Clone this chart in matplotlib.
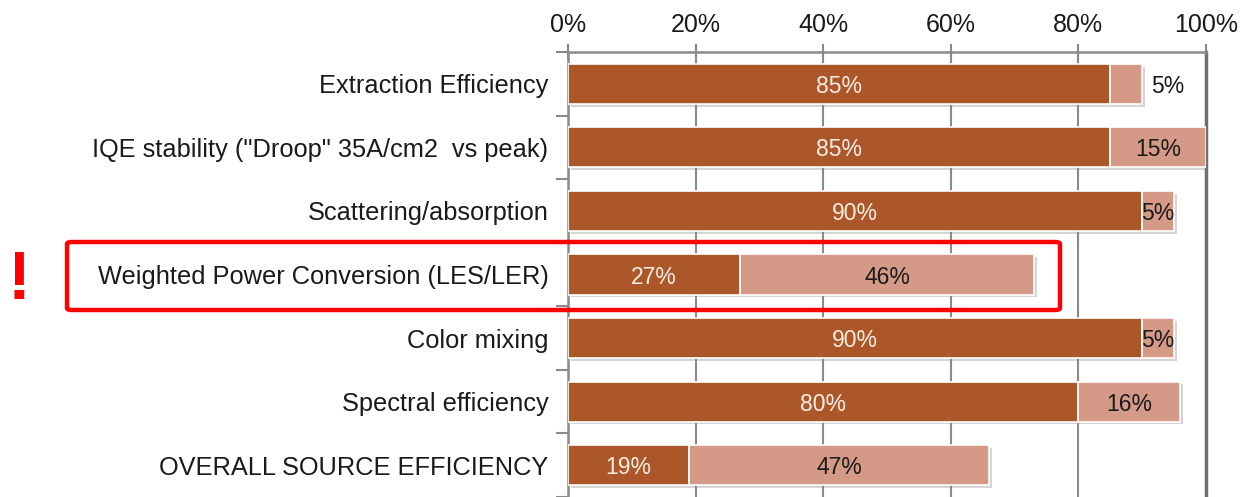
import matplotlib.pyplot as plt
import matplotlib.patheffects as pe
from matplotlib.patches import FancyBboxPatch
import numpy as np

plt.rcParams['font.family'] = ['Liberation Sans', 'DejaVu Sans']

categories = ['Extraction Efficiency',
              'IQE stability ("Droop" 35A/cm2  vs peak)',
              'Scattering/absorption',
              'Weighted Power Conversion (LES/LER)',
              'Color mixing',
              'Spectral efficiency',
              'OVERALL SOURCE EFFICIENCY']
achieved = [85, 85, 90, 27, 90, 80, 19]
potential = [5, 15, 5, 46, 5, 16, 47]
ticks = [0, 20, 40, 60, 80, 100]

dark = '#AB5729'
light = '#D49A87'
grid_c = '#8a8a8a'

fig = plt.figure(figsize=(12.43, 4.97), dpi=100)
ax = fig.add_axes([568 / 1243, 0.0, (1206 - 568) / 1243, 1 - 52 / 497])

y = np.arange(len(categories))
shadow = [pe.SimplePatchShadow(offset=(2, -2), shadow_rgbFace='#888888', alpha=0.35), pe.Normal()]
b1 = ax.barh(y, achieved, height=0.63, color=dark, edgecolor='white', linewidth=1.2, zorder=3)
b2 = ax.barh(y, potential, left=achieved, height=0.63, color=light, edgecolor='white',
             linewidth=1.2, zorder=3)
for p in list(b1) + list(b2):
    p.set_path_effects(shadow)

for i in range(len(categories)):
    ax.text(achieved[i] / 2, y[i], '%d%%' % achieved[i], ha='center', va='center_baseline',
            color='#FBEDE3', fontsize=16.5, zorder=5)
    if i == 0:
        # small segment: label put beside the bar
        xl = achieved[i] + potential[i] + 4
    else:
        xl = achieved[i] + potential[i] / 2
    ax.text(xl, y[i], '%d%%' % potential[i], ha='center', va='center_baseline',
            color='#1a1a1a', fontsize=16.5, zorder=5)

ax.set_xlim(0, 100)
ax.set_ylim(len(categories) - 0.5, -0.5)
ax.xaxis.tick_top()
ax.set_xticks(ticks)
ax.set_xticklabels(['%d%%' % t for t in ticks], fontsize=18, color='#1a1a1a')
ax.tick_params(axis='x', direction='inout', length=12, width=1.5, color=grid_c, pad=5)
ax.grid(axis='x', color=grid_c, linewidth=1.5)
ax.set_axisbelow(True)

ax.set_yticks(y)
ax.set_yticklabels(categories, fontsize=18.3, color='#1a1a1a')
ax.set_yticks(np.arange(len(categories) + 1) - 0.5, minor=True)
ax.tick_params(axis='y', which='major', length=0, pad=14)
ax.tick_params(axis='y', which='minor', direction='out', length=9, width=1.5, color=grid_c)

ax.spines['bottom'].set_visible(False)
ax.spines['top'].set_color(grid_c)
ax.spines['top'].set_linewidth(1.8)
ax.spines['left'].set_color(grid_c)
ax.spines['left'].set_linewidth(1.8)
ax.spines['right'].set_color('#707070')
ax.spines['right'].set_linewidth(2.5)

# highlight box around the power conversion row
box = FancyBboxPatch((67 / 1243, 1 - 310 / 497), (1060 - 67) / 1243, 68 / 497,
                     boxstyle='round,pad=0,rounding_size=0.004', transform=fig.transFigure,
                     fill=False, edgecolor='#FF0000', linewidth=3.2, zorder=10)
fig.patches.append(box)
fig.text(19 / 1243, 1 - 281 / 497, '!', color='#FF0000', fontsize=50, fontweight='bold',
         ha='center', va='center')

fig.savefig('out.png', dpi=100)
